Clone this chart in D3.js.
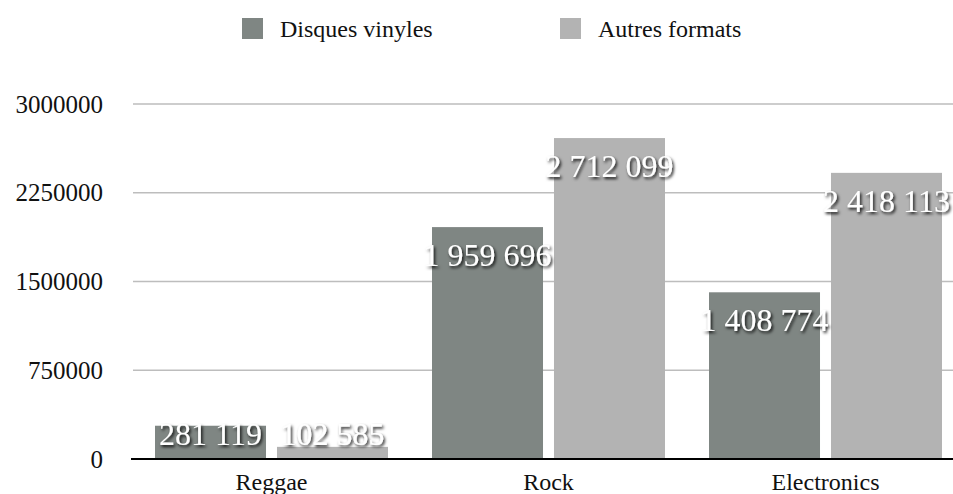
<!DOCTYPE html>
<html>
<head>
<meta charset="utf-8">
<script src="https://cdn.jsdelivr.net/npm/d3@7"></script>
<style>
  body { margin: 0; background: #fff; }
</style>
</head>
<body>
<div id="chart"></div>
<script>
// chart data
const categories = ["Reggae", "Rock", "Electronics"];
const seriesNames = ["Disques vinyles", "Autres formats"];
const vinyles = [281119, 1959696, 1408774];
const autres = [102585, 2712099, 2418113];
const yTicks = [0, 750000, 1500000, 2250000, 3000000];
const colors = ["#7f8683", "#b3b3b3"];

const width = 953, height = 494;
const margin = {top: 104, right: -11, bottom: 35, left: 133};
const serif = "'Liberation Serif', 'Times New Roman', serif";

const svg = d3.select("#chart").append("svg")
    .attr("width", width)
    .attr("height", height)
    .attr("font-family", serif);

// shadow for the value labels
const defs = svg.append("defs");
const filter = defs.append("filter").attr("id", "shadow")
    .attr("x", "-20%").attr("y", "-40%").attr("width", "140%").attr("height", "180%");
filter.append("feDropShadow")
    .attr("dx", 1.5).attr("dy", 2)
    .attr("stdDeviation", 1.4)
    .attr("flood-color", "#000")
    .attr("flood-opacity", 0.9);

const y = d3.scaleLinear()
    .domain([0, 3000000])
    .range([height - margin.bottom, margin.top]);

const x0 = d3.scaleBand()
    .domain(categories)
    .range([margin.left, width - margin.right]);

const x1 = d3.scaleBand()
    .domain(seriesNames)
    .range([22, 255])
    .paddingInner(0.09);

// gridlines
svg.append("g")
    .selectAll("line")
    .data(yTicks.filter(d => d > 0))
    .join("line")
    .attr("x1", margin.left)
    .attr("x2", width)
    .attr("y1", d => y(d))
    .attr("y2", d => y(d))
    .attr("stroke", "#bdbdbd")
    .attr("stroke-width", 1.5);

// y tick labels
svg.append("g")
    .selectAll("text")
    .data(yTicks)
    .join("text")
    .attr("x", 103)
    .attr("y", d => y(d) + 8.5)
    .attr("text-anchor", "end")
    .attr("font-family", serif)
    .attr("font-size", 25)
    .attr("fill", "#111")
    .text(d => d);

// bars
const rows = categories.map((c, i) => ({cat: c, values: [vinyles[i], autres[i]]}));

const groups = svg.append("g")
    .selectAll("g")
    .data(rows)
    .join("g")
    .attr("transform", d => `translate(${x0(d.cat)},0)`);

groups.selectAll("rect")
    .data(d => d.values.map((v, j) => ({key: seriesNames[j], value: v, j: j})))
    .join("rect")
    .attr("x", d => x1(d.key))
    .attr("y", d => y(d.value))
    .attr("width", x1.bandwidth())
    .attr("height", d => y(0) - y(d.value))
    .attr("fill", d => colors[d.j]);

// baseline
svg.append("line")
    .attr("x1", 131)
    .attr("x2", width)
    .attr("y1", y(0))
    .attr("y2", y(0))
    .attr("stroke", "#000")
    .attr("stroke-width", 2);

// value labels
const fmt = v => d3.format(",")(v).replace(/,/g, " ");
groups.selectAll("text.val")
    .data(d => d.values.map((v, j) => ({key: seriesNames[j], value: v})))
    .join("text")
    .attr("class", "val")
    .attr("x", d => x1(d.key) + x1.bandwidth() / 2)
    .attr("y", d => Math.min(y(d.value) + 39, y(0) - 14))
    .attr("text-anchor", "middle")
    .attr("font-family", serif)
    .attr("font-size", 32)
    .attr("fill", "#fff")
    .attr("filter", "url(#shadow)")
    .text(d => fmt(d.value));

// x labels
svg.append("g")
    .selectAll("text")
    .data(categories)
    .join("text")
    .attr("x", d => x0(d) + x0.bandwidth() / 2)
    .attr("y", 490)
    .attr("text-anchor", "middle")
    .attr("font-family", serif)
    .attr("font-size", 24)
    .attr("fill", "#111")
    .text(d => d);

// legend
const legend = svg.append("g")
    .selectAll("g")
    .data(seriesNames)
    .join("g")
    .attr("transform", (d, i) => `translate(${242 + i * 318},0)`);

legend.append("rect")
    .attr("x", 0)
    .attr("y", 18)
    .attr("width", 21)
    .attr("height", 21)
    .attr("fill", (d, i) => colors[i]);

legend.append("text")
    .attr("x", 38)
    .attr("y", 37)
    .attr("font-family", serif)
    .attr("font-size", 24)
    .attr("fill", "#111")
    .text(d => d);
</script>
</body>
</html>
